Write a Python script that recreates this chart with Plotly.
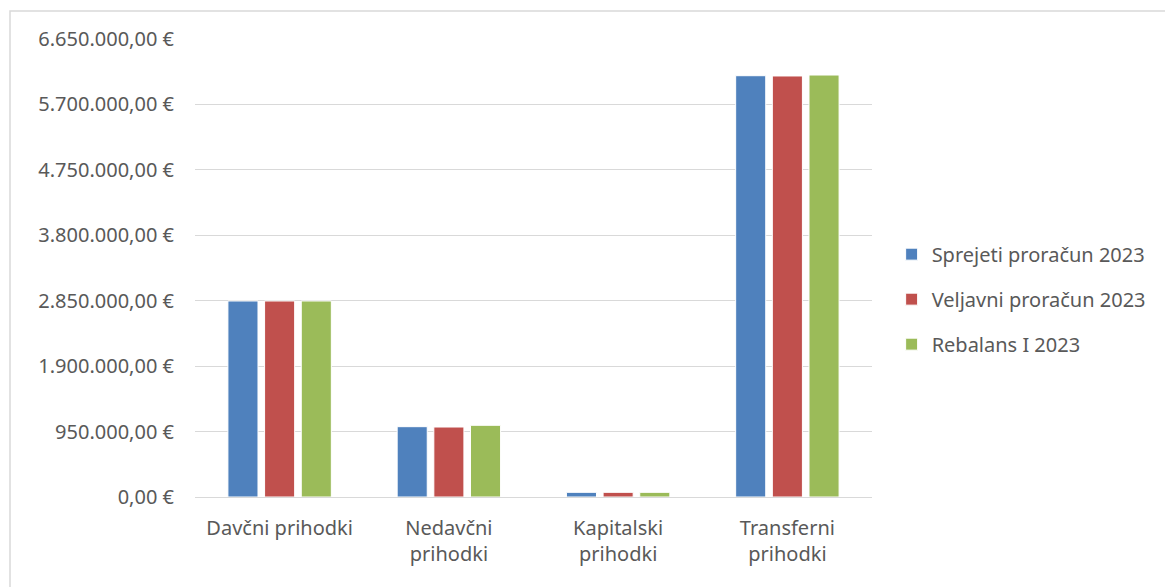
import plotly.graph_objects as go

categories = ["Davčni prihodki", "Nedavčni<br>prihodki", "Kapitalski<br>prihodki", "Transferni<br>prihodki"]
series_names = ["Sprejeti proračun 2023", "Veljavni proračun 2023", "Rebalans I 2023"]
sprejeti = [2846000, 1021000, 68000, 6117000]
veljavni = [2846000, 1016000, 68000, 6113000]
rebalans = [2846000, 1041000, 68000, 6127000]
tick_values = [0, 950000, 1900000, 2850000, 3800000, 4750000, 5700000, 6650000]
tick_labels = ["0,00 €", "950.000,00 €", "1.900.000,00 €", "2.850.000,00 €",
               "3.800.000,00 €", "4.750.000,00 €", "5.700.000,00 €", "6.650.000,00 €"]
colors = ["#4f81bd", "#c0504d", "#9bbb59"]

FONT = "Noto Sans"
fig = go.Figure()
for i, (name, vals) in enumerate(zip(series_names, [sprejeti, veljavni, rebalans])):
    fig.add_trace(go.Bar(
        x=categories, y=vals, name=name, legendgroup=name,
        marker=dict(color=colors[i], line=dict(color="white", width=1)),
    ))

W, H = 1173, 587
L, R, T, B = 187, 309, 31, 98
PW, PH = W - L - R, H - T - B
fig.update_layout(
    width=W, height=H,
    margin=dict(l=L, r=R, t=T, b=B),
    paper_bgcolor="white", plot_bgcolor="white",
    barmode="group", bargap=0.35, bargroupgap=0.18,
    font=dict(family=FONT, size=20, color="#595959"),
    showlegend=True,
    legend=dict(x=1.029, y=0.432, xanchor="left", yanchor="middle",
                font=dict(size=20, color="#595959"),
                traceorder="grouped", tracegroupgap=16),
    xaxis=dict(showgrid=False, showline=False, ticks="", tickfont=dict(size=20),
               ticklabelstandoff=17),
    yaxis=dict(range=[0, 6650000], tickvals=tick_values, ticktext=tick_labels,
               showgrid=True, gridcolor="#d9d9d9", gridwidth=1.3, zeroline=True,
               zerolinecolor="#d9d9d9", zerolinewidth=1.3, showline=False,
               ticks="", ticklabelstandoff=20, tickfont=dict(size=20)),
    shapes=[dict(type="rect", xref="paper", yref="paper",
                 x0=(2 - L) / PW, x1=(1200 - L) / PW,
                 y0=(H - B - 620) / PH, y1=(H - B - 3) / PH,
                 line=dict(color="#d9d9d9", width=1.5), layer="below")],
)
fig.write_html("out.html")
